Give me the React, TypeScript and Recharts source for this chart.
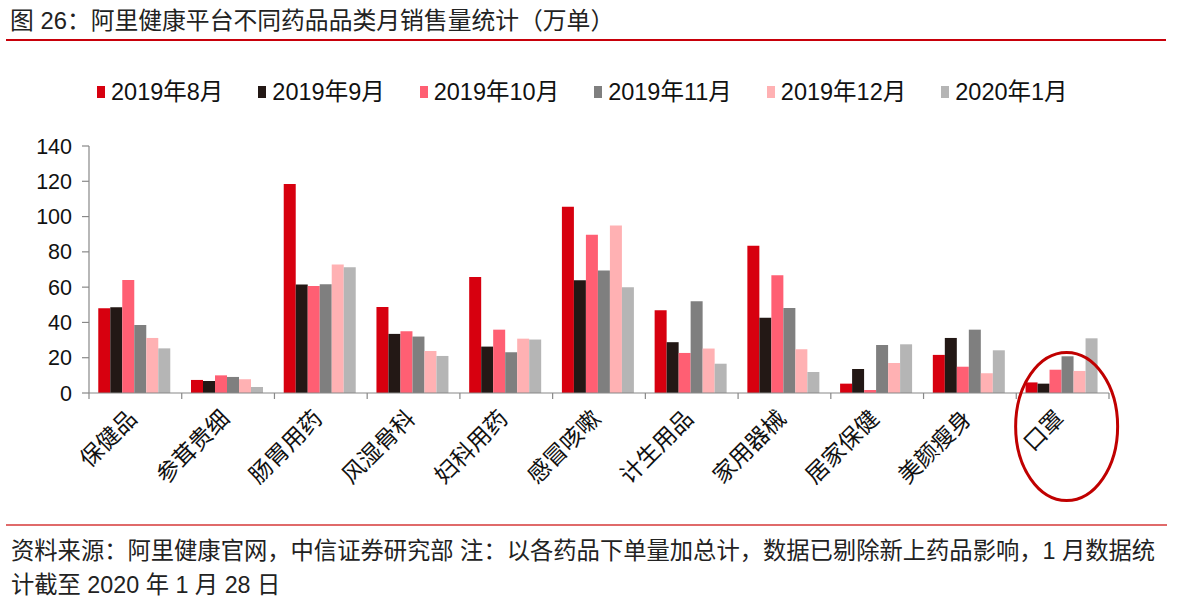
import React from "react"
import { BarChart, Bar, XAxis, YAxis, ReferenceDot } from "recharts"

const categories = ["保健品", "参茸贵细", "肠胃用药", "风湿骨科", "妇科用药", "感冒咳嗽", "计生用品", "家用器械", "居家保健", "美颜瘦身", "口罩"]

const seriesNames = ["2019年8月", "2019年9月", "2019年10月", "2019年11月", "2019年12月", "2020年1月"]

// 万单
const aug2019 = [48, 7.4, 118.4, 48.8, 65.8, 105.6, 46.9, 83.4, 5.3, 21.6, 6]
const sep2019 = [48.6, 6.8, 61.5, 33.5, 26.3, 63.9, 28.8, 42.6, 13.6, 31.2, 5.3]
const oct2019 = [64, 10, 60.7, 35, 35.9, 89.7, 22.7, 66.8, 1.7, 14.9, 13.2]
const nov2019 = [38.6, 9.1, 61.7, 32, 23.1, 69.4, 52, 48.2, 27.2, 35.9, 20.8]
const dec2019 = [31.2, 7.8, 72.8, 23.8, 30.8, 95, 25.2, 24.8, 17, 11.2, 12.5]
const jan2020 = [25.3, 3.4, 71.3, 21, 30.3, 60, 16.6, 11.9, 27.6, 24.2, 31]

const yTicks = [0, 20, 40, 60, 80, 100, 120, 140]

const COLORS = ["#d7000f", "#231815", "#ff5f73", "#7f7f7f", "#ffb1b3", "#b5b5b5"]

const allSeries = [aug2019, sep2019, oct2019, nov2019, dec2019, jan2020]
const keys = ["s0", "s1", "s2", "s3", "s4", "s5"]

const data = categories.map((name, i) => {
  const row: any = { name }
  allSeries.forEach((s, j) => {
    row[keys[j]] = s[i]
  })
  return row
})

const FONT = "'Liberation Sans', 'Noto Sans CJK SC', sans-serif"

const XTick = (props: any) => {
  const { x, y, payload, index, width, visibleTicksCount } = props
  const half = payload?.offset || (width && visibleTicksCount ? width / visibleTicksCount / 2 : 46)
  return (
    <g>
      <line x1={x + half} x2={x + half} y1={y} y2={y + 6} stroke="#888" strokeWidth={1.2} />
      {index === 0 && <line x1={x - half} x2={x - half} y1={y} y2={y + 6} stroke="#888" strokeWidth={1.2} />}
      <text
        x={x + 3}
        y={y + 27}
        transform={`rotate(-45, ${x + 3}, ${y + 27})`}
        textAnchor="end"
        fontSize={23}
        fill="#111"
        fontFamily={FONT}
      >
        {payload.value}
      </text>
    </g>
  )
}

const Ring = (p: any) => (
  <ellipse cx={p.cx + 4} cy={p.cy} rx={51} ry={74} fill="none" stroke="#c00000" strokeWidth={3} />
)

export default function App() {
  return (
    <div style={{ position: "absolute", left: 0, top: 0, width: 1200, height: 599, background: "#fff", fontFamily: FONT, color: "#222" }}>
      <div style={{ position: "absolute", left: 10, top: 6, fontSize: 23.8, lineHeight: "30px", whiteSpace: "nowrap" }}>
        图 26：阿里健康平台不同药品品类月销售量统计（万单）
      </div>
      <div style={{ position: "absolute", left: 6, top: 39, width: 1160, height: 2, background: "#c8000a" }} />

      <div style={{ position: "absolute", left: 97, top: 79, display: "flex", gap: 35, alignItems: "center", fontSize: 23.5, color: "#111" }}>
        {seriesNames.map((n, i) => (
          <div key={n} style={{ display: "flex", alignItems: "center" }}>
            <div style={{ width: 8, height: 12, background: COLORS[i], marginRight: 6 }} />
            <span style={{ lineHeight: "26px" }}>{n}</span>
          </div>
        ))}
      </div>

      <div style={{ position: "absolute", left: 0, top: 0 }}>
        <BarChart
          width={1200}
          height={515}
          data={data}
          margin={{ top: 146, right: 91, left: 29, bottom: 0 }}
          barCategoryGap="10%"
          barGap={0}
        >
          <XAxis
            dataKey="name"
            height={122}
            interval={0}
            tickSize={0}
            tickMargin={0}
            tickLine={false}
            axisLine={{ stroke: "#888", strokeWidth: 1.2 }}
            tick={<XTick />}
          />
          <YAxis
            width={60}
            domain={[0, 140]}
            ticks={yTicks}
            interval={0}
            tickSize={7}
            tickMargin={10}
            axisLine={{ stroke: "#888", strokeWidth: 1.2 }}
            tickLine={{ stroke: "#888", strokeWidth: 1.2 }}
            tick={{ fontSize: 21.5, fill: "#111", fontFamily: FONT }}
          />
          {keys.map((k, i) => (
            <Bar key={k} dataKey={k} name={seriesNames[i]} fill={COLORS[i]} isAnimationActive={false} />
          ))}
          <ReferenceDot x="口罩" y={-19} ifOverflow="visible" shape={Ring} />
        </BarChart>
      </div>

      <div style={{ position: "absolute", left: 6, top: 524, width: 1161, height: 1.5, background: "#e06a6a" }} />
      <div style={{ position: "absolute", left: 11, top: 534, fontSize: 23.3, lineHeight: "34px", color: "#222", whiteSpace: "nowrap" }}>
        <div>资料来源：阿里健康官网，中信证券研究部 注：以各药品下单量加总计，数据已剔除新上药品影响，1 月数据统</div>
        <div>计截至 2020 年 1 月 28 日</div>
      </div>
    </div>
  )
}
